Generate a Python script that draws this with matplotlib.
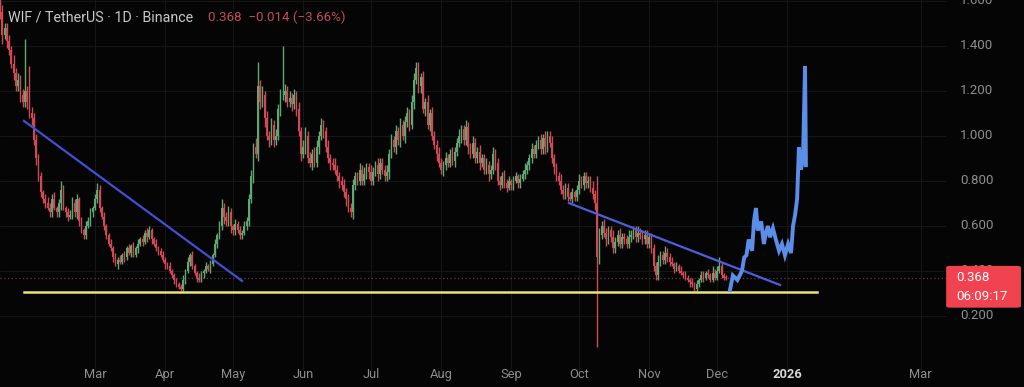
import numpy as np
import matplotlib
matplotlib.use("Agg")
import matplotlib.pyplot as plt
from matplotlib.patches import FancyBboxPatch

# WIF / USDT daily candles (open = previous close)
start_date = np.datetime64("2025-01-18")
first_open = 1.62

closes = [
    1.55, 1.45, 1.48, 1.42, 1.38, 1.32, 1.28, 1.22, 1.25, 1.18,
    1.15, 1.20, 1.15, 1.10, 1.08, 0.98, 0.90, 0.82, 0.75, 0.72,
    0.70, 0.68, 0.66, 0.72, 0.68, 0.66, 0.70, 0.76, 0.68, 0.66,
    0.64, 0.65, 0.70, 0.66, 0.72, 0.62, 0.58, 0.56, 0.60, 0.62,
    0.66, 0.68, 0.72, 0.76, 0.68, 0.64, 0.60, 0.56, 0.52, 0.50,
    0.46, 0.43, 0.45, 0.44, 0.47, 0.46, 0.50, 0.48, 0.51, 0.47,
    0.50, 0.52, 0.54, 0.53, 0.57, 0.55, 0.58, 0.54, 0.52, 0.50,
    0.49, 0.47, 0.45, 0.43, 0.42, 0.40, 0.38, 0.36, 0.34, 0.33,
    0.32, 0.36, 0.40, 0.44, 0.47, 0.42, 0.39, 0.37, 0.36, 0.39,
    0.40, 0.42, 0.41, 0.43, 0.47, 0.52, 0.56, 0.60, 0.68, 0.64,
    0.62, 0.66, 0.60, 0.58, 0.61, 0.58, 0.56, 0.57, 0.60, 0.62,
    0.72, 0.82, 0.95, 0.92, 1.22, 1.15, 1.18, 1.08, 1.00, 0.98,
    1.05, 0.98, 1.00, 1.12, 1.18, 1.18, 1.20, 1.15, 1.17, 1.14,
    1.18, 1.12, 1.02, 0.92, 0.95, 1.00, 0.90, 0.88, 0.92, 0.88,
    0.95, 1.00, 1.05, 1.02, 0.95, 0.90, 0.88, 0.87, 0.85, 0.82,
    0.80, 0.78, 0.75, 0.72, 0.68, 0.66, 0.78, 0.82, 0.80, 0.85,
    0.80, 0.83, 0.86, 0.84, 0.80, 0.84, 0.87, 0.83, 0.88, 0.85,
    0.82, 0.84, 0.92, 0.98, 0.95, 1.02, 0.98, 1.05, 1.00, 1.06,
    1.10, 1.05, 1.15, 1.25, 1.30, 1.22, 1.26, 1.12, 1.15, 1.05,
    1.10, 1.00, 0.96, 0.92, 0.88, 0.85, 0.87, 0.90, 0.88, 0.92,
    0.89, 0.93, 0.97, 1.00, 1.03, 0.98, 1.04, 0.95, 0.92, 0.97,
    0.90, 0.93, 0.88, 0.90, 0.85, 0.87, 0.83, 0.85, 0.92, 0.88,
    0.80, 0.78, 0.82, 0.79, 0.77, 0.80, 0.78, 0.80, 0.82, 0.79,
    0.81, 0.83, 0.85, 0.87, 0.90, 0.94, 0.92, 0.96, 0.98, 0.94,
    0.99, 0.95, 1.00, 0.97, 0.90, 0.86, 0.82, 0.80, 0.76, 0.74,
    0.77, 0.73, 0.72, 0.75, 0.73, 0.76, 0.80, 0.78, 0.82, 0.79,
    0.80, 0.77, 0.74, 0.70, 0.46, 0.56, 0.60, 0.57, 0.54, 0.58,
    0.55, 0.50, 0.53, 0.56, 0.52, 0.55, 0.54, 0.52, 0.55, 0.56,
    0.58, 0.55, 0.57, 0.56, 0.54, 0.56, 0.52, 0.55, 0.50, 0.42,
    0.38, 0.44, 0.47, 0.45, 0.48, 0.46, 0.44, 0.43, 0.41, 0.42,
    0.40, 0.39, 0.38, 0.37, 0.36, 0.35, 0.34, 0.32, 0.34, 0.36,
    0.38, 0.37, 0.39, 0.38, 0.36, 0.39, 0.37, 0.40, 0.42, 0.38,
    0.37, 0.368,
]

# wick lengths above / below the body, in cents
wick_hi = [
    6, 3, 2, 2, 3, 2, 4, 2, 3, 2,
    3, 23, 2, 16, 3, 2, 3, 2, 2, 1,
    2, 3, 2, 2, 3, 1, 2, 4, 2, 1,
    2, 2, 3, 2, 2, 1, 2, 1, 2, 2,
    2, 1, 2, 3, 2, 1, 2, 1, 1, 2,
    1, 2, 1, 2, 1, 2, 1, 2, 1, 2,
    1, 2, 1, 2, 1, 2, 2, 1, 1, 2,
    1, 1, 2, 1, 1, 2, 1, 1, 1, 1,
    1, 2, 1, 2, 1, 2, 1, 1, 2, 1,
    1, 2, 1, 2, 1, 2, 1, 2, 4, 2,
    2, 3, 2, 1, 2, 1, 2, 1, 2, 2,
    2, 3, 2, 4, 11, 3, 4, 2, 3, 2,
    3, 2, 3, 2, 3, 22, 3, 2, 3, 2,
    3, 2, 3, 2, 3, 4, 2, 3, 2, 3,
    3, 2, 3, 2, 2, 3, 2, 2, 3, 2,
    2, 2, 3, 2, 2, 2, 3, 2, 2, 3,
    2, 3, 2, 2, 3, 2, 2, 3, 2, 2,
    2, 3, 2, 3, 2, 3, 2, 3, 2, 3,
    3, 2, 3, 3, 3, 3, 2, 3, 2, 3,
    2, 3, 2, 2, 3, 2, 2, 3, 2, 2,
    3, 2, 2, 3, 2, 2, 3, 2, 2, 3,
    2, 2, 3, 2, 2, 3, 2, 2, 3, 2,
    2, 2, 2, 3, 2, 2, 1, 2, 2, 1,
    2, 2, 3, 2, 2, 3, 2, 2, 2, 3,
    2, 3, 2, 2, 3, 2, 2, 2, 3, 2,
    2, 2, 2, 2, 1, 2, 3, 2, 2, 2,
    2, 2, 3, 2, 12, 3, 2, 3, 2, 2,
    2, 3, 2, 2, 3, 2, 2, 2, 3, 2,
    2, 2, 3, 2, 2, 2, 2, 2, 2, 2,
    2, 3, 2, 2, 3, 2, 2, 2, 1, 2,
    1, 2, 1, 2, 1, 1, 2, 1, 2, 1,
    2, 2, 1, 2, 1, 3, 2, 2, 4, 2,
    1, 1,
]
wick_lo = [
    3, 4, 2, 3, 2, 2, 3, 2, 2, 3,
    2, 2, 3, 2, 3, 2, 3, 2, 2, 2,
    2, 1, 2, 2, 1, 2, 2, 3, 1, 2,
    2, 1, 2, 2, 3, 2, 1, 2, 2, 1,
    2, 2, 1, 2, 2, 1, 2, 2, 1, 1,
    2, 1, 2, 1, 1, 2, 1, 1, 2, 1,
    1, 2, 1, 2, 1, 2, 1, 2, 1, 1,
    2, 1, 1, 2, 1, 1, 1, 2, 1, 1,
    1, 1, 2, 1, 2, 1, 1, 2, 1, 1,
    2, 1, 1, 2, 1, 1, 2, 2, 2, 3,
    2, 2, 3, 2, 2, 1, 2, 2, 1, 2,
    2, 2, 3, 2, 3, 3, 2, 4, 2, 3,
    2, 3, 2, 2, 3, 2, 3, 2, 2, 3,
    2, 3, 2, 3, 2, 3, 2, 2, 3, 2,
    2, 3, 2, 3, 2, 2, 3, 2, 2, 2,
    3, 2, 2, 3, 2, 2, 3, 2, 2, 2,
    2, 2, 2, 3, 2, 2, 2, 3, 2, 2,
    2, 2, 3, 2, 2, 3, 2, 3, 2, 3,
    2, 3, 2, 3, 2, 3, 3, 2, 3, 2,
    3, 2, 2, 3, 2, 2, 3, 2, 2, 2,
    2, 3, 2, 2, 3, 2, 2, 3, 2, 2,
    2, 2, 3, 2, 2, 2, 3, 2, 2, 3,
    2, 2, 1, 2, 2, 1, 2, 2, 1, 2,
    2, 1, 2, 2, 2, 2, 2, 2, 2, 2,
    2, 3, 2, 2, 2, 3, 2, 2, 2, 2,
    2, 2, 1, 2, 2, 2, 2, 1, 2, 2,
    2, 2, 2, 3, 40, 3, 2, 2, 3, 2,
    2, 2, 2, 2, 2, 2, 2, 2, 2, 2,
    2, 2, 2, 2, 2, 2, 2, 2, 2, 2,
    2, 2, 2, 2, 2, 2, 2, 1, 2, 1,
    1, 1, 1, 1, 1, 2, 1, 1, 1, 1,
    1, 2, 1, 1, 1, 1, 1, 1, 1, 1,
    1, 1,
]
assert len(closes) == len(wick_hi) == len(wick_lo)

# projected "bars pattern" drawing (blue), bar index / price
proj_x = [322.7, 324, 326, 328, 329, 330, 331, 332.5, 333.3, 334.2, 335, 336.5,
          337.7, 338.6, 339.5, 340.4, 341.7, 343, 344.4, 345.7, 347, 348.4,
          349.7, 350.6, 351.5, 352.4, 353.2, 354.1, 355, 355.9, 356.3]
proj_y = [0.315, 0.38, 0.36, 0.40, 0.46, 0.47, 0.54, 0.49, 0.62, 0.68, 0.58, 0.62,
          0.52, 0.57, 0.60, 0.55, 0.59, 0.54, 0.49, 0.52, 0.47, 0.52,
          0.48, 0.60, 0.65, 0.72, 0.95, 0.85, 0.90, 1.31, 0.87]

# drawn lines: (x0, y0, x1, y1)
trend_1 = (10.6, 1.067, 107.0, 0.356)
trend_2 = (251.5, 0.702, 344.8, 0.338)
support = (10.6, 0.307, 361.2, 0.307)

price_ticks = [0.2, 0.4, 0.6, 0.8, 1.0, 1.2, 1.4, 1.6]
month_dates = ["2025-03-01", "2025-04-01", "2025-05-01", "2025-06-01", "2025-07-01",
               "2025-08-01", "2025-09-01", "2025-10-01", "2025-11-01", "2025-12-01",
               "2026-01-01", "2026-03-01"]
month_labels = ["Mar", "Apr", "May", "Jun", "Jul", "Aug", "Sep", "Oct", "Nov", "Dec",
                "2026", "Mar"]

last_price = 0.368
countdown = "06:09:17"

plt.rcParams["font.family"] = ["Roboto", "DejaVu Sans"]

bg = "#050505"
up_col = "#5fa872"
dn_col = "#d04a55"
label_col = "#8e8e8e"
grid_col = "#161616"

fig = plt.figure(figsize=(10.24, 3.87), dpi=100, facecolor=bg)
ax = fig.add_axes([0, 0, 1, 1])
ax.set_facecolor(bg)
ax.set_xlim(0, 452.7)
ax.set_ylim(-0.1156, 1.6044)
ax.axis("off")

grid_end = 418
month_x = [(np.datetime64(d) - start_date).astype(int) for d in month_dates]

# grid
ax.hlines(price_ticks, 0, grid_end, color=grid_col, lw=0.8, zorder=0)
ax.vlines(month_x, -0.04, 1.61, color=grid_col, lw=0.8, zorder=0)

# candles
c = np.array(closes)
o = np.concatenate([[first_open], c[:-1]])
hi = np.maximum(o, c) + np.array(wick_hi) / 100
lo = np.minimum(o, c) - np.array(wick_lo) / 100
idx = np.arange(len(c))
cols = np.where(c >= o, up_col, dn_col)
ax.vlines(idx, lo, hi, colors=cols, lw=1.0, zorder=2)
body = np.maximum(np.abs(c - o), 0.004)
ax.bar(idx, body, bottom=np.minimum(o, c), width=0.72, color=cols, lw=0, zorder=3)

# last price dotted line
ax.hlines(last_price, 0, grid_end, color="#6a3a3f", lw=0.9, linestyles=(0, (1, 2)), zorder=1)

# drawings
ax.plot([support[0], support[2]], [support[1], support[3]], color="#ece17a", lw=1.8, zorder=4)
ax.plot([trend_1[0], trend_1[2]], [trend_1[1], trend_1[3]], color="#4150d4", lw=1.6, zorder=4)
ax.plot([trend_2[0], trend_2[2]], [trend_2[1], trend_2[3]], color="#4a5fdc", lw=1.6, zorder=4)
ax.plot(proj_x, proj_y, color="#5b8ee8", lw=2.8, solid_joinstyle="miter", zorder=5)

# price scale labels
for p in price_ticks:
    ax.text(960 / 1024 * 452.7, p, f"{p:.3f}", color=label_col, fontsize=9.5,
            ha="left", va="center", zorder=6)

# last price tag
tag = FancyBboxPatch((0.926, 0.207), 0.069, 0.104, boxstyle="round,pad=0.002,rounding_size=0.004",
                     transform=fig.transFigure, facecolor="#f0434f", edgecolor="none", zorder=7)
fig.patches.append(tag)
fig.text(0.934, 0.284, f"{last_price:.3f}", color="white", fontsize=9.5, ha="left",
         va="center", zorder=8)
fig.text(0.934, 0.234, countdown, color="white", fontsize=9.5, ha="left",
         va="center", zorder=8)

# time axis labels
for mx, ml in zip(month_x, month_labels):
    ax.text(mx, -0.062, ml, color="#d8d8d8" if ml == "2026" else label_col,
            fontsize=9.3, fontweight="bold" if ml == "2026" else "normal",
            ha="center", va="center", zorder=6)

# header
fig.text(0.008, 0.955, "WIF / TetherUS · 1D · Binance", color="#c8c8c8", fontsize=10.3,
         ha="left", va="center")
fig.text(0.203, 0.955, "0.368  −0.014 (−3.66%)", color="#c24c56", fontsize=9.6,
         ha="left", va="center")

fig.savefig("out.png", dpi=100, facecolor=bg)
